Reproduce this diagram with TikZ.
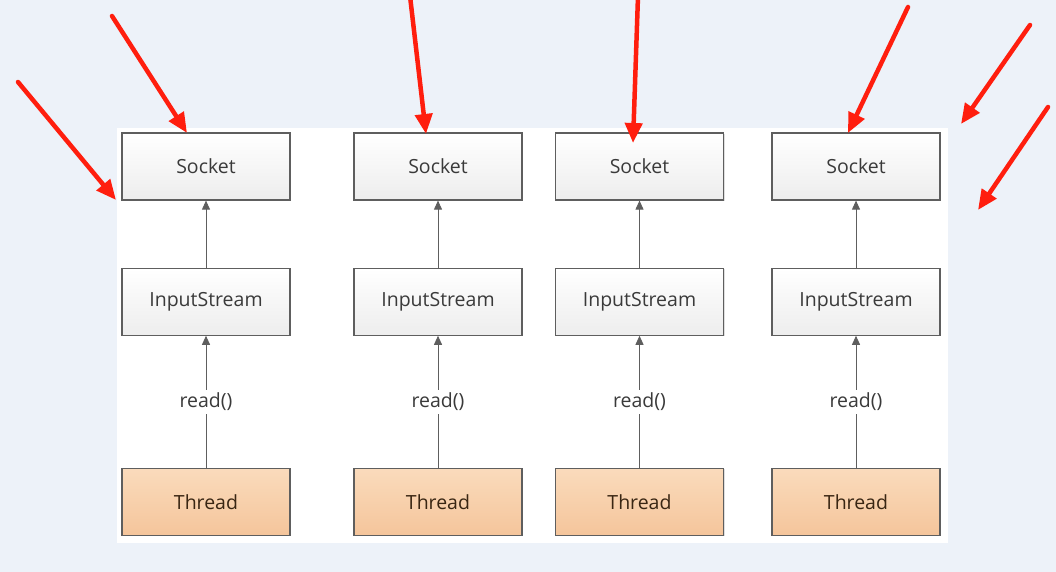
\documentclass[tikz,border=0pt]{standalone}
\usepackage{fontspec}
\setmainfont{Open Sans}
\usepackage{tikz}
\usetikzlibrary{positioning, arrows.meta, shadows}
\definecolor{pagebg}{HTML}{EDF2F9}
\definecolor{boxline}{HTML}{5E5E5E}
\definecolor{boxtop}{HTML}{FFFFFF}
\definecolor{boxbot}{HTML}{EDEDED}
\definecolor{thrtop}{HTML}{FADBBC}
\definecolor{thrbot}{HTML}{F5C59B}
\definecolor{hint}{HTML}{FF1E0E}
\definecolor{label}{HTML}{3A3A3A}
\tikzset{
        x=1pt, y=-1pt,
        node distance=67pt, % gap between the rows of a column
        every node/.style={font=\fontsize{19.5}{22}\selectfont},
    }
\tikzstyle{block}=[draw=boxline,line width=1.2pt,top color=boxtop,bottom color=boxbot,minimum width=168pt,minimum height=67pt,inner sep=0pt,text=label,drop shadow={shadow xshift=1pt,shadow yshift=-1pt,opacity=.25}]
\tikzstyle{thread}=[block,top color=thrtop,bottom color=thrbot,text=black!70!brown]
\tikzstyle{link}=[draw=boxline,line width=.9pt,-{Triangle[length=9pt,width=8pt]}]
\tikzstyle{pointer}=[draw=hint,line width=4.5pt,line cap=round,-{Triangle[length=20pt,width=17pt]}]

\begin{document}
\begin{tikzpicture}
    \useasboundingbox (0,0) rectangle (1056,572);
    \fill[pagebg] (0,0) rectangle (1056,572);
    \fill[white] (117,128) rectangle (948,543);

    % sockets on top
    \node[block] (s1) at (206,166.5) {Socket};
    \node[block] (s2) at (438,166.5) {Socket};
    \node[block] (s3) at (639.5,166.5) {Socket};
    \node[block] (s4) at (856,166.5) {Socket};

    % streams
    \node[block, below=of s1] (i1) {InputStream};
    \node[block, below=of s2] (i2) {InputStream};
    \node[block, below=of s3] (i3) {InputStream};
    \node[block, below=of s4] (i4) {InputStream};

    % threads
    \node[thread, below=132pt of i1] (t1) {Thread};
    \node[thread, below=132pt of i2] (t2) {Thread};
    \node[thread, below=132pt of i3] (t3) {Thread};
    \node[thread, below=132pt of i4] (t4) {Thread};

    \draw[link] (i1) -- (s1);
    \draw[link] (i2) -- (s2);
    \draw[link] (i3) -- (s3);
    \draw[link] (i4) -- (s4);
    \draw[link] (t1) -- node[fill=white,inner sep=3pt,text=label] (r1) {read()} (i1);
    \draw[link] (t2) -- node[fill=white,inner sep=3pt,text=label] (r2) {read()} (i2);
    \draw[link] (t3) -- node[fill=white,inner sep=3pt,text=label] (r3) {read()} (i3);
    \draw[link] (t4) -- node[fill=white,inner sep=3pt,text=label] (r4) {read()} (i4);

    % red pointers
    \coordinate (a1) at (112,16);   \coordinate (b1) at (187,133);
    \coordinate (a2) at (18,82);    \coordinate (b2) at (116,200);
    \coordinate (a3) at (410,-4);   \coordinate (b3) at (426,134);
    \coordinate (a4) at (638,-4);   \coordinate (b4) at (633,143);
    \coordinate (a5) at (908,7);    \coordinate (b5) at (848,133);
    \coordinate (a6) at (1030,25);  \coordinate (b6) at (961,124);
    \coordinate (a7) at (1048,107); \coordinate (b7) at (978,210);
    \draw[pointer] (a1) -- (b1);
    \draw[pointer] (a2) -- (b2);
    \draw[pointer] (a3) -- (b3);
    \draw[pointer] (a4) -- (b4);
    \draw[pointer] (a5) -- (b5);
    \draw[pointer] (a6) -- (b6);
    \draw[pointer] (a7) -- (b7);
\end{tikzpicture}
\end{document}
